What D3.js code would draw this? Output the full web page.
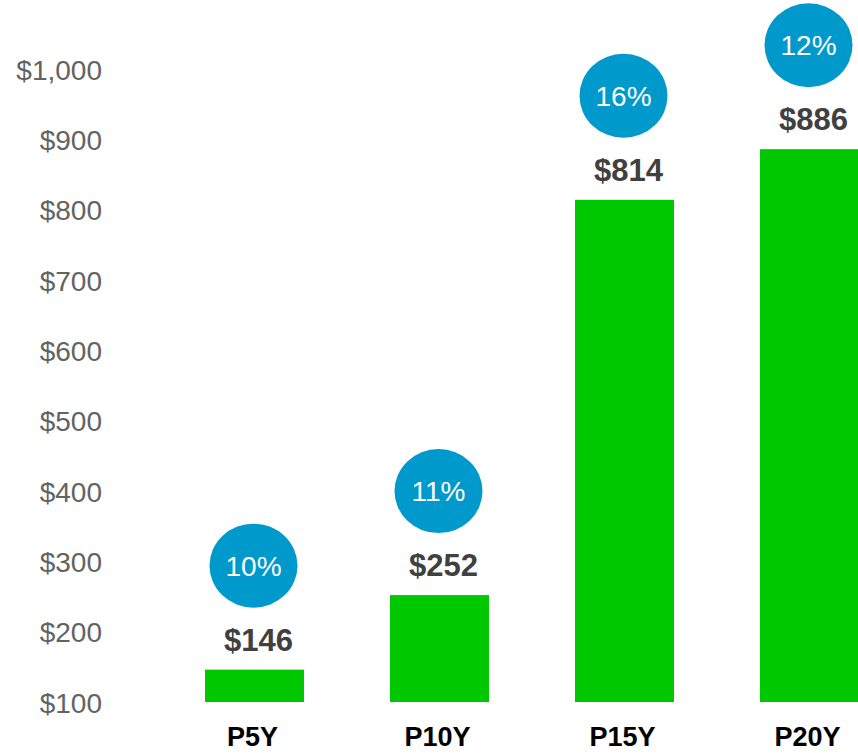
<!DOCTYPE html>
<html>
<head>
<meta charset="utf-8">
<script src="https://cdn.jsdelivr.net/npm/d3@7"></script>
<style>
  body{margin:0;background:#fff;}
  svg{display:block;}
</style>
</head>
<body>
<svg width="858" height="753"></svg>
<script>
// data
const periods=['P5Y','P10Y','P15Y','P20Y'];
const values=[146,252,814,886];
const growth=['10%','11%','16%','12%'];
const yTicks=[100,200,300,400,500,600,700,800,900,1000];

const svg=d3.select('svg');

const x=d3.scaleBand()
  .domain(periods)
  .range([162,902])
  .paddingInner(0.465)
  .paddingOuter(0.2325);

const y=d3.scaleLinear()
  .domain([100,1000])
  .range([702,69]);

const fmt=d=>'$'+d3.format(',')(d);

/****** y axis labels ******/
const yAxis=d3.axisLeft(y).tickValues(yTicks).tickFormat(fmt).tickSize(0).tickPadding(0);
const gy=svg.append('g').attr('transform','translate(102,0)').call(yAxis);
gy.select('.domain').remove();
gy.selectAll('text')
  .attr('dy','0.36em')
  .style('font-family','Arial, "Liberation Sans", sans-serif')
  .style('font-size','28px')
  .style('fill','#636363');

/****** bars ******/
const rows=periods.map((p,i)=>({p,v:values[i],g:growth[i]}));

svg.selectAll('rect.bar')
  .data(rows)
  .enter().append('rect')
  .attr('class','bar')
  .attr('x',d=>x(d.p))
  .attr('y',d=>y(d.v))
  .attr('width',x.bandwidth())
  .attr('height',d=>y(100)-y(d.v))
  .attr('fill','#00c800');

/****** value labels ******/
svg.selectAll('text.val')
  .data(rows)
  .enter().append('text')
  .attr('class','val')
  .attr('x',d=>x(d.p)+x.bandwidth()/2+4)
  .attr('y',d=>y(d.v)-19)
  .attr('text-anchor','middle')
  .style('font-family','Arial, "Liberation Sans", sans-serif')
  .style('font-weight','bold')
  .style('font-size','31px')
  .style('fill','#404040')
  .text(d=>fmt(d.v));

/****** growth bubbles ******/
const bub=svg.selectAll('g.bub')
  .data(rows)
  .enter().append('g')
  .attr('class','bub')
  .attr('transform',d=>`translate(${x(d.p)+x.bandwidth()/2-1},${y(d.v)-104})`);

bub.append('ellipse')
  .attr('rx',44)
  .attr('ry',42)
  .attr('fill','#0099cc');

bub.append('text')
  .attr('text-anchor','middle')
  .attr('dy','0.36em')
  .style('font-family','Arial, "Liberation Sans", sans-serif')
  .style('font-size','28px')
  .style('fill','#ffffff')
  .text(d=>d.g);

/****** category labels ******/
svg.selectAll('text.cat')
  .data(rows)
  .enter().append('text')
  .attr('class','cat')
  .attr('x',d=>x(d.p)+x.bandwidth()/2-2)
  .attr('y',746)
  .attr('text-anchor','middle')
  .style('font-family','"Liberation Sans Narrow", "Arial Narrow", sans-serif')
  .style('font-weight','bold')
  .style('font-size','27px')
  .style('fill','#000000')
  .text(d=>d.p);
</script>
</body>
</html>
